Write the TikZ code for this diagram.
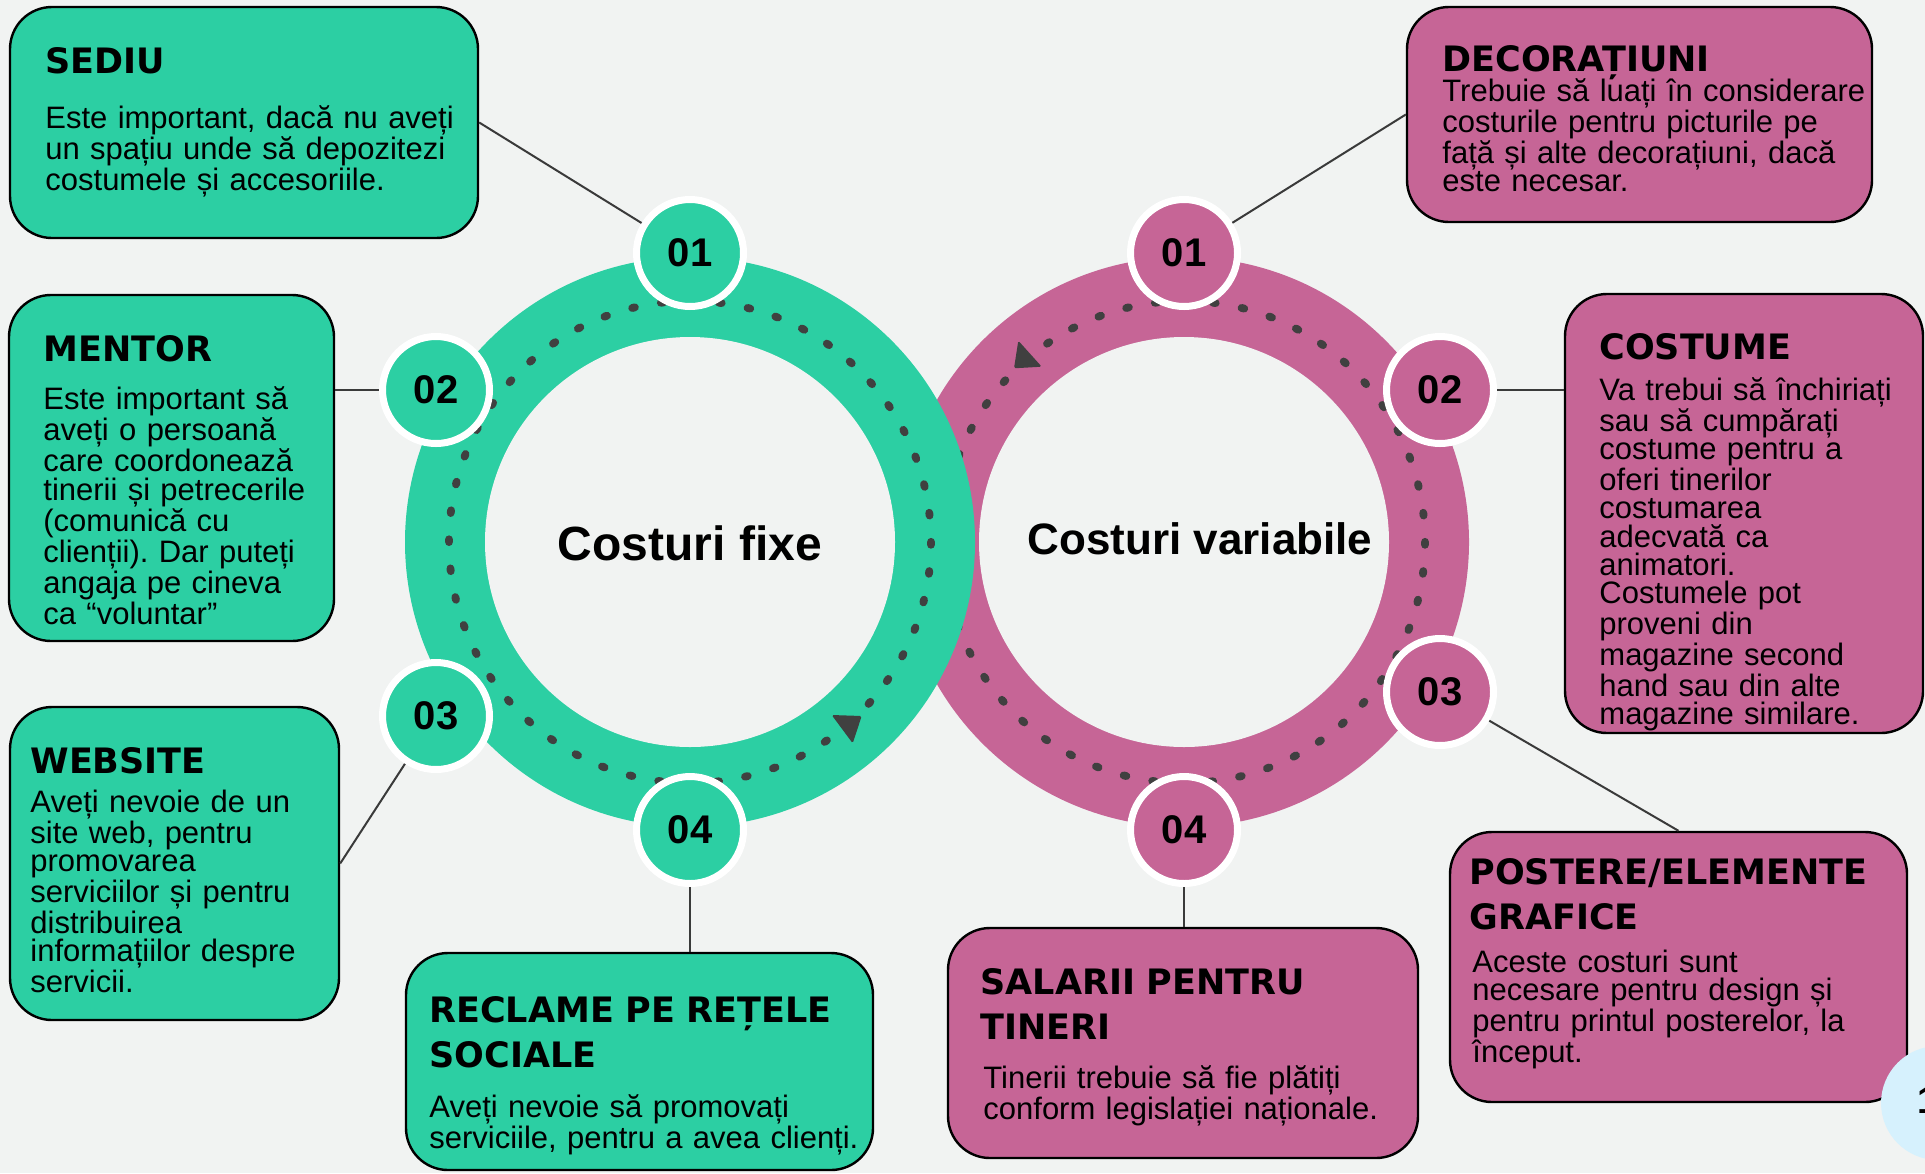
\documentclass[tikz,border=0pt]{standalone}
\usepackage{fontspec}
\setmainfont{Liberation Sans}
\newfontfamily\titlefont{DejaVu Sans}
\frenchspacing
\definecolor{bgc}{HTML}{F1F3F2}
\definecolor{greenc}{HTML}{2CCFA3}
\definecolor{pinkc}{HTML}{C66596}
\definecolor{dotc}{HTML}{404040}
\definecolor{linec}{HTML}{3A3A3A}
\definecolor{lbluec}{HTML}{D6F1FD}
\begin{document}
\begin{tikzpicture}[x=0.5pt,y=-0.5pt,
  box/.style={draw=black, line width=1.2pt, rounded corners=21pt, inner sep=0pt},
  num/.style={circle, draw=white, line width=3.5pt, minimum size=53.5pt, inner sep=0pt,
    font=\fontsize{20pt}{20pt}\selectfont\bfseries},
  ttl/.style={anchor=base west, inner sep=0pt, text width=260pt, align=left,
    font=\titlefont\bfseries\fontsize{17.5pt}{22.5pt}\selectfont},
  body/.style={anchor=base west, inner sep=0pt, text width=260pt, align=left,
    font=\fontsize{15.5pt}{14.15pt}\selectfont\frenchspacing},
  conn/.style={draw=linec, line width=1pt},
  dotring/.style={draw=dotc, line width=3.9pt, line cap=round, dash pattern=on 1.4pt off 13.16pt},
  center/.style={anchor=base, inner sep=0pt, font=\bfseries}
]
\path[use as bounding box, fill=bgc] (0,0) rectangle (1925,1173);

% pink ring
\fill[pinkc] (1184,542) circle[radius=285];
\fill[bgc] (1184,542) circle[radius=205];
\draw[dotring] (1184,542) circle[radius=241];
\fill[dotc, rounded corners=0.8pt] (1018.3,340.7) -- (1014,368.3) -- (1041.7,366.7) -- cycle;

% green ring
\fill[greenc] (690,542) circle[radius=285];
\fill[bgc] (690,542) circle[radius=205];
\draw[dotring] (690,542) circle[radius=241];
\fill[dotc, rounded corners=0.8pt] (831.7,715) -- (861.7,716) -- (852.7,743.3) -- cycle;

\node[center, font=\bfseries\fontsize{24pt}{24pt}\selectfont] (fixe) at (690,560) {Costuri fixe};
\node[center, font=\bfseries\fontsize{22pt}{22pt}\selectfont] (var) at (1200,554) {Costuri variabile};

% number circles
\node[num, fill=greenc] (g1) at (690,253) {01};
\node[num, fill=greenc] (g2) at (436,390) {02};
\node[num, fill=greenc] (g3) at (436,716) {03};
\node[num, fill=greenc] (g4) at (690,830) {04};
\node[num, fill=pinkc] (p1) at (1184,253) {01};
\node[num, fill=pinkc] (p2) at (1440,390) {02};
\node[num, fill=pinkc] (p3) at (1440,692) {03};
\node[num, fill=pinkc] (p4) at (1184,830) {04};

% boxes
\node[box, fill=greenc, minimum width=234pt, minimum height=115.5pt] (sediu) at (244,122.5) {};
\node[box, fill=greenc, minimum width=162.5pt, minimum height=173pt] (mentor) at (171.5,468) {};
\node[box, fill=greenc, minimum width=164.5pt, minimum height=156.5pt] (website) at (174.5,863.5) {};
\node[box, fill=greenc, minimum width=233.5pt, minimum height=108.5pt] (reclame) at (639.5,1061.5) {};
\node[box, fill=pinkc, minimum width=235pt, minimum height=115pt] (salarii) at (1183,1043) {};
\node[box, fill=pinkc, minimum width=228.5pt, minimum height=135pt] (postere) at (1678.5,967) {};
\node[box, fill=pinkc, minimum width=232.5pt, minimum height=107.5pt] (decor) at (1639.5,114.5) {};
\node[box, fill=pinkc, minimum width=179pt, minimum height=219.5pt] (costume) at (1744,513.5) {};

% connectors
\draw[conn] (sediu.east) -- (g1);
\draw[conn] (mentor.east |- g2) -- (g2);
\draw[conn] (website.east) -- (g3);
\draw[conn] (g4) -- (g4 |- reclame.north);
\draw[conn] (decor.west) -- (p1);
\draw[conn] (p2) -- (p2 -| costume.west);
\draw[conn] (postere.north) -- (p3);
\draw[conn] (p4) -- (p4 |- salarii.north);

% texts
\node[ttl] (t1) at (45,73) {SEDIU};
\node[body] (b1) at (45,128) {Este important, dacă nu aveți\\un spațiu unde să depozitezi\\costumele și accesoriile.};

\node[ttl] (t2) at (43,361) {MENTOR};
\node[body] (b2) at (43,409) {Este important să\\aveți o persoană\\care coordonează\\tinerii și petrecerile\\(comunică cu\\clienții). Dar puteți\\angaja pe cineva\\ca “voluntar”};

\node[ttl] (t3) at (30,773) {WEBSITE};
\node[body] (b3) at (30,812) {Aveți nevoie de un\\site web, pentru\\promovarea\\serviciilor și pentru\\distribuirea\\informațiilor despre\\servicii.};

\node[ttl] (t4) at (429,1022) {RECLAME PE REȚELE\\SOCIALE};
\node[body] (b4) at (429,1117) {Aveți nevoie să promovați\\serviciile, pentru a avea clienți.};

\node[ttl] (t5) at (1442,71) {DECORAȚIUNI};
\node[body] (b5) at (1442,101) {Trebuie să luați în considerare\\costurile pentru picturile pe\\față și alte decorațiuni, dacă\\este necesar.};

\node[ttl] (t6) at (1599,359) {COSTUME};
\node[body] (b6) at (1599,400) {Va trebui să închiriați\\sau să cumpărați\\costume pentru a\\oferi tinerilor\\costumarea\\adecvată ca\\animatori.\\Costumele pot\\proveni din\\magazine second\\hand sau din alte\\magazine similare.};

\node[ttl] (t7) at (980,994) {SALARII PENTRU\\TINERI};
\node[body] (b7) at (983,1088) {Tinerii trebuie să fie plătiți\\conform legislației naționale.};

\node[ttl] (t8) at (1469,884) {POSTERE/ELEMENTE\\GRAFICE};
\node[body] (b8) at (1472,972) {Aceste costuri sunt\\necesare pentru design și\\pentru printul posterelor, la\\început.};

% page marker
\node[circle, fill=lbluec, minimum size=57pt, inner sep=0pt] (pg) at (1938,1103) {};
\node[anchor=base west, inner sep=0pt, font=\bfseries\fontsize{19pt}{19pt}\selectfont] (pgn) at (1917,1113) {1};
\end{tikzpicture}
\end{document}
